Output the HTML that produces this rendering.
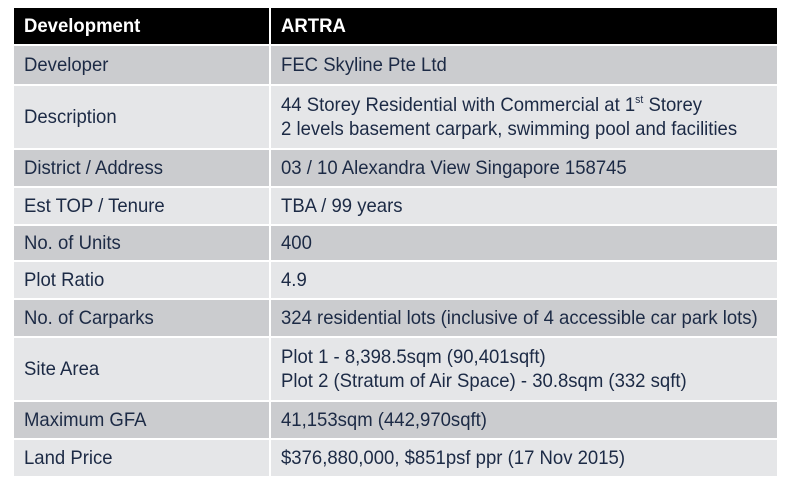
<!DOCTYPE html>
<html><head><meta charset="utf-8"><style>
body{margin:0;width:795px;height:493px;background:#fff;position:relative;overflow:hidden;font-family:"Liberation Sans",sans-serif;}
.c{position:absolute;display:flex;align-items:center;box-sizing:border-box;padding-left:10px;font-size:19.5px;color:#1c2a45;line-height:24px;}
.c span{display:inline-block;white-space:nowrap;transform:scaleX(0.95);transform-origin:left center;}
.h{background:#000;color:#fff;font-weight:bold;}
.d{background:#cbcccf}.l{background:#e5e6e8}
sup{font-size:11px;line-height:0;vertical-align:8px}
</style></head><body>
<div id="t"></div>
<script>
const rows=[
["Development","ARTRA",8,36,"h"],
["Developer","FEC Skyline Pte Ltd",46,38,"d"],
["Description","44 Storey Residential with Commercial at 1<sup>st</sup> Storey<br>2 levels basement carpark, swimming pool and facilities",86,62,"l"],
["District / Address","03 / 10 Alexandra View Singapore 158745",150,36,"d"],
["Est TOP / Tenure","TBA / 99 years",188,36,"l"],
["No. of Units","400",226,34,"d"],
["Plot Ratio","4.9",262,36,"l"],
["No. of Carparks","324 residential lots (inclusive of 4 accessible car park lots)",300,36,"d"],
["Site Area","Plot 1 - 8,398.5sqm (90,401sqft)<br>Plot 2 (Stratum of Air Space) - 30.8sqm (332 sqft)",338,62,"l"],
["Maximum GFA","41,153sqm (442,970sqft)",402,36,"d"],
["Land Price","$376,880,000, $851psf ppr (17 Nov 2015)",440,36,"l"]];
const t=document.getElementById('t');
rows.forEach((r,i)=>{
 const a=document.createElement('div');a.className='c '+r[4];
 a.style.cssText=`left:14px;top:${r[2]}px;width:255px;height:${r[3]}px;`;a.innerHTML='<span>'+r[0]+'</span>';
 
 
 const b=document.createElement('div');b.className='c '+r[4];
 b.style.cssText=`left:271px;top:${r[2]}px;width:506px;height:${r[3]}px;`;b.innerHTML='<span>'+r[1]+'</span>';
 
 
 t.appendChild(a);t.appendChild(b);
});
</script>
</body></html>
